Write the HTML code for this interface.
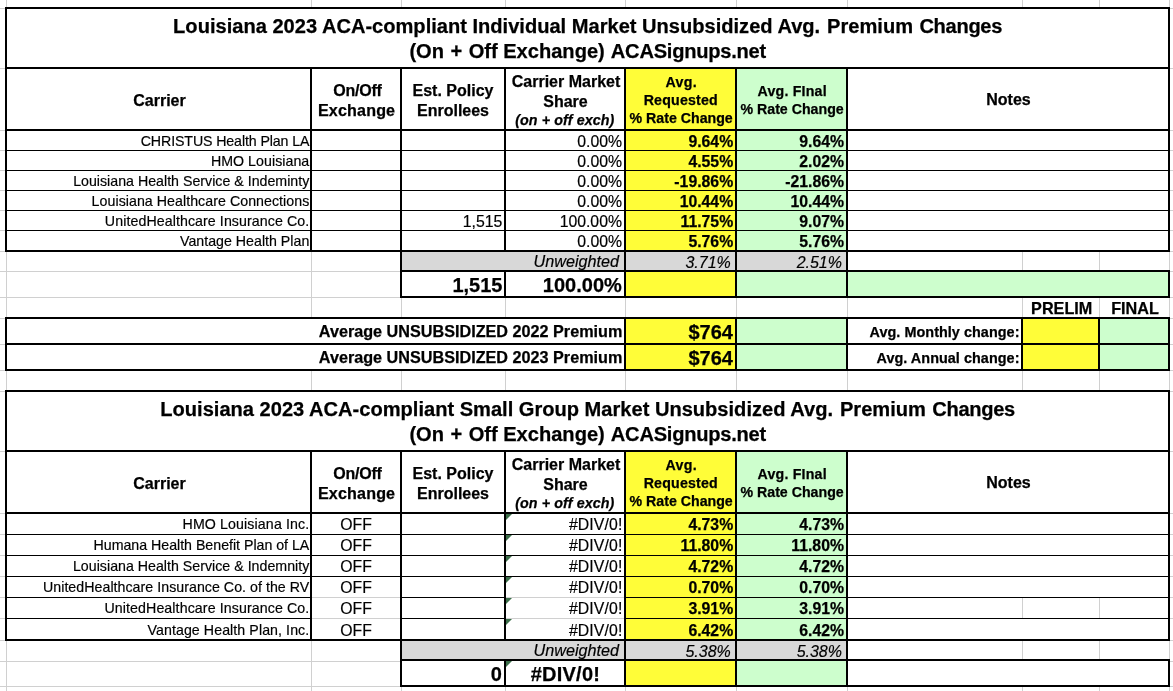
<!DOCTYPE html>
<html><head><meta charset="utf-8"><title>Louisiana 2023 Rate Changes</title><style>
html,body{margin:0;padding:0;background:#fff}
#s{position:relative;width:1173px;height:691px;overflow:hidden;background:#fff;font-family:"Liberation Sans",sans-serif;color:#000}
#s div{position:absolute}
.t{position:absolute;line-height:0;white-space:nowrap;-webkit-text-stroke:0.18px #000}
.b{font-weight:bold;-webkit-text-stroke:0.25px #000}
#tx{position:absolute;left:0;top:0;width:1173px;height:691px;will-change:transform}
</style></head>
<body><div id="s">
<div style="left:6px;top:0px;width:1px;height:691px;background:#D0D0D0"></div>
<div style="left:311px;top:0px;width:1px;height:691px;background:#D0D0D0"></div>
<div style="left:401px;top:0px;width:1px;height:691px;background:#D0D0D0"></div>
<div style="left:505px;top:0px;width:1px;height:691px;background:#D0D0D0"></div>
<div style="left:625px;top:0px;width:1px;height:691px;background:#D0D0D0"></div>
<div style="left:736px;top:0px;width:1px;height:691px;background:#D0D0D0"></div>
<div style="left:847px;top:0px;width:1px;height:691px;background:#D0D0D0"></div>
<div style="left:1022px;top:0px;width:1px;height:691px;background:#D0D0D0"></div>
<div style="left:1099px;top:0px;width:1px;height:691px;background:#D0D0D0"></div>
<div style="left:1169px;top:0px;width:1px;height:691px;background:#D0D0D0"></div>
<div style="left:0px;top:8px;width:1173px;height:1px;background:#D0D0D0"></div>
<div style="left:0px;top:68px;width:1173px;height:1px;background:#D0D0D0"></div>
<div style="left:0px;top:130px;width:1173px;height:1px;background:#D0D0D0"></div>
<div style="left:0px;top:150px;width:1173px;height:1px;background:#D0D0D0"></div>
<div style="left:0px;top:170px;width:1173px;height:1px;background:#D0D0D0"></div>
<div style="left:0px;top:190px;width:1173px;height:1px;background:#D0D0D0"></div>
<div style="left:0px;top:210px;width:1173px;height:1px;background:#D0D0D0"></div>
<div style="left:0px;top:230px;width:1173px;height:1px;background:#D0D0D0"></div>
<div style="left:0px;top:251px;width:1173px;height:1px;background:#D0D0D0"></div>
<div style="left:0px;top:271px;width:1173px;height:1px;background:#D0D0D0"></div>
<div style="left:0px;top:297px;width:1173px;height:1px;background:#D0D0D0"></div>
<div style="left:0px;top:318px;width:1173px;height:1px;background:#D0D0D0"></div>
<div style="left:0px;top:344px;width:1173px;height:1px;background:#D0D0D0"></div>
<div style="left:0px;top:370px;width:1173px;height:1px;background:#D0D0D0"></div>
<div style="left:0px;top:391px;width:1173px;height:1px;background:#D0D0D0"></div>
<div style="left:0px;top:451px;width:1173px;height:1px;background:#D0D0D0"></div>
<div style="left:0px;top:513px;width:1173px;height:1px;background:#D0D0D0"></div>
<div style="left:0px;top:534px;width:1173px;height:1px;background:#D0D0D0"></div>
<div style="left:0px;top:555px;width:1173px;height:1px;background:#D0D0D0"></div>
<div style="left:0px;top:576px;width:1173px;height:1px;background:#D0D0D0"></div>
<div style="left:0px;top:597px;width:1173px;height:1px;background:#D0D0D0"></div>
<div style="left:0px;top:618px;width:1173px;height:1px;background:#D0D0D0"></div>
<div style="left:0px;top:640px;width:1173px;height:1px;background:#D0D0D0"></div>
<div style="left:0px;top:661px;width:1173px;height:1px;background:#D0D0D0"></div>
<div style="left:0px;top:686px;width:1173px;height:1px;background:#D0D0D0"></div>
<div style="left:5px;top:7px;width:1165px;height:245px;background:#fff"></div>
<div style="left:626px;top:69px;width:109px;height:181px;background:#FFFD38"></div>
<div style="left:737px;top:69px;width:109px;height:181px;background:#CDFECD"></div>
<div style="left:5px;top:7px;width:1165px;height:2px;background:#000"></div>
<div style="left:5px;top:67px;width:1165px;height:2px;background:#000"></div>
<div style="left:5px;top:129px;width:1165px;height:2px;background:#000"></div>
<div style="left:5px;top:250px;width:1165px;height:2px;background:#000"></div>
<div style="left:7px;top:150px;width:1161px;height:1px;background:#000"></div>
<div style="left:7px;top:170px;width:1161px;height:1px;background:#000"></div>
<div style="left:7px;top:190px;width:1161px;height:1px;background:#000"></div>
<div style="left:7px;top:210px;width:1161px;height:1px;background:#000"></div>
<div style="left:7px;top:230px;width:1161px;height:1px;background:#000"></div>
<div style="left:5px;top:7px;width:2px;height:245px;background:#000"></div>
<div style="left:1168px;top:7px;width:2px;height:245px;background:#000"></div>
<div style="left:310px;top:67px;width:2px;height:185px;background:#000"></div>
<div style="left:400px;top:67px;width:2px;height:185px;background:#000"></div>
<div style="left:504px;top:67px;width:2px;height:185px;background:#000"></div>
<div style="left:624px;top:67px;width:2px;height:185px;background:#000"></div>
<div style="left:735px;top:67px;width:2px;height:185px;background:#000"></div>
<div style="left:846px;top:67px;width:2px;height:185px;background:#000"></div>
<div style="left:402px;top:252px;width:444px;height:18px;background:#D8D8D8"></div>
<div style="left:400px;top:252px;width:2px;height:18px;background:#000"></div>
<div style="left:624px;top:252px;width:2px;height:18px;background:#000"></div>
<div style="left:735px;top:252px;width:2px;height:18px;background:#000"></div>
<div style="left:846px;top:252px;width:2px;height:18px;background:#000"></div>
<div style="left:400px;top:270px;width:770px;height:28px;background:#fff"></div>
<div style="left:626px;top:272px;width:109px;height:24px;background:#FFFD38"></div>
<div style="left:737px;top:272px;width:109px;height:24px;background:#CDFECD"></div>
<div style="left:400px;top:270px;width:770px;height:2px;background:#000"></div>
<div style="left:400px;top:296px;width:770px;height:2px;background:#000"></div>
<div style="left:400px;top:270px;width:2px;height:28px;background:#000"></div>
<div style="left:504px;top:270px;width:2px;height:28px;background:#000"></div>
<div style="left:624px;top:270px;width:2px;height:28px;background:#000"></div>
<div style="left:735px;top:270px;width:2px;height:28px;background:#000"></div>
<div style="left:846px;top:270px;width:2px;height:28px;background:#000"></div>
<div style="left:1168px;top:270px;width:2px;height:28px;background:#000"></div>
<div style="left:848px;top:272px;width:320px;height:24px;background:#CDFECD"></div>
<div style="left:5px;top:317px;width:1165px;height:54px;background:#fff"></div>
<div style="left:626px;top:319px;width:109px;height:24px;background:#FFFD38"></div>
<div style="left:626px;top:345px;width:109px;height:24px;background:#FFFD38"></div>
<div style="left:737px;top:319px;width:109px;height:24px;background:#CDFECD"></div>
<div style="left:737px;top:345px;width:109px;height:24px;background:#CDFECD"></div>
<div style="left:1023px;top:319px;width:75px;height:24px;background:#FFFD38"></div>
<div style="left:1023px;top:345px;width:75px;height:24px;background:#FFFD38"></div>
<div style="left:1100px;top:319px;width:68px;height:24px;background:#CDFECD"></div>
<div style="left:1100px;top:345px;width:68px;height:24px;background:#CDFECD"></div>
<div style="left:5px;top:317px;width:1165px;height:2px;background:#000"></div>
<div style="left:5px;top:343px;width:1165px;height:2px;background:#000"></div>
<div style="left:5px;top:369px;width:1165px;height:2px;background:#000"></div>
<div style="left:5px;top:317px;width:2px;height:54px;background:#000"></div>
<div style="left:624px;top:317px;width:2px;height:54px;background:#000"></div>
<div style="left:735px;top:317px;width:2px;height:54px;background:#000"></div>
<div style="left:846px;top:317px;width:2px;height:54px;background:#000"></div>
<div style="left:1021px;top:317px;width:2px;height:54px;background:#000"></div>
<div style="left:1098px;top:317px;width:2px;height:54px;background:#000"></div>
<div style="left:1168px;top:317px;width:2px;height:54px;background:#000"></div>
<div style="left:5px;top:390px;width:1165px;height:251px;background:#fff"></div>
<div style="left:626px;top:452px;width:109px;height:187px;background:#FFFD38"></div>
<div style="left:737px;top:452px;width:109px;height:187px;background:#CDFECD"></div>
<div style="left:5px;top:390px;width:1165px;height:2px;background:#000"></div>
<div style="left:5px;top:450px;width:1165px;height:2px;background:#000"></div>
<div style="left:5px;top:512px;width:1165px;height:2px;background:#000"></div>
<div style="left:5px;top:639px;width:1165px;height:2px;background:#000"></div>
<div style="left:7px;top:534px;width:1161px;height:1px;background:#000"></div>
<div style="left:7px;top:555px;width:1161px;height:1px;background:#000"></div>
<div style="left:7px;top:576px;width:1161px;height:1px;background:#000"></div>
<div style="left:7px;top:597px;width:1161px;height:1px;background:#000"></div>
<div style="left:7px;top:618px;width:1161px;height:1px;background:#000"></div>
<div style="left:5px;top:390px;width:2px;height:251px;background:#000"></div>
<div style="left:1168px;top:390px;width:2px;height:251px;background:#000"></div>
<div style="left:310px;top:450px;width:2px;height:191px;background:#000"></div>
<div style="left:400px;top:450px;width:2px;height:191px;background:#000"></div>
<div style="left:504px;top:450px;width:2px;height:191px;background:#000"></div>
<div style="left:624px;top:450px;width:2px;height:191px;background:#000"></div>
<div style="left:735px;top:450px;width:2px;height:191px;background:#000"></div>
<div style="left:846px;top:450px;width:2px;height:191px;background:#000"></div>
<div style="left:506px;top:514px;width:0;height:0;border-top:6px solid #3B6E49;border-right:6px solid transparent"></div>
<div style="left:506px;top:535px;width:0;height:0;border-top:6px solid #3B6E49;border-right:6px solid transparent"></div>
<div style="left:506px;top:556px;width:0;height:0;border-top:6px solid #3B6E49;border-right:6px solid transparent"></div>
<div style="left:506px;top:577px;width:0;height:0;border-top:6px solid #3B6E49;border-right:6px solid transparent"></div>
<div style="left:506px;top:598px;width:0;height:0;border-top:6px solid #3B6E49;border-right:6px solid transparent"></div>
<div style="left:506px;top:619px;width:0;height:0;border-top:6px solid #3B6E49;border-right:6px solid transparent"></div>
<div style="left:402px;top:641px;width:444px;height:18px;background:#D8D8D8"></div>
<div style="left:400px;top:641px;width:2px;height:18px;background:#000"></div>
<div style="left:624px;top:641px;width:2px;height:18px;background:#000"></div>
<div style="left:735px;top:641px;width:2px;height:18px;background:#000"></div>
<div style="left:846px;top:641px;width:2px;height:18px;background:#000"></div>
<div style="left:400px;top:659px;width:770px;height:28px;background:#fff"></div>
<div style="left:626px;top:661px;width:109px;height:24px;background:#FFFD38"></div>
<div style="left:737px;top:661px;width:109px;height:24px;background:#CDFECD"></div>
<div style="left:400px;top:659px;width:770px;height:2px;background:#000"></div>
<div style="left:400px;top:685px;width:770px;height:2px;background:#000"></div>
<div style="left:400px;top:659px;width:2px;height:28px;background:#000"></div>
<div style="left:504px;top:659px;width:2px;height:28px;background:#000"></div>
<div style="left:624px;top:659px;width:2px;height:28px;background:#000"></div>
<div style="left:735px;top:659px;width:2px;height:28px;background:#000"></div>
<div style="left:846px;top:659px;width:2px;height:28px;background:#000"></div>
<div style="left:1168px;top:659px;width:2px;height:28px;background:#000"></div>
<div style="left:506px;top:661px;width:0;height:0;border-top:6px solid #3B6E49;border-right:6px solid transparent"></div>
<div style="left:312px;top:597px;width:88px;height:1px;background:#D0D0D0"></div>
<div style="left:312px;top:618px;width:88px;height:1px;background:#D0D0D0"></div>
<div style="left:506px;top:597px;width:118px;height:1px;background:#D0D0D0"></div>
<div style="left:506px;top:618px;width:118px;height:1px;background:#D0D0D0"></div>
<div style="left:1022px;top:598px;width:1px;height:20px;background:#D0D0D0"></div>
<div style="left:1099px;top:598px;width:1px;height:20px;background:#D0D0D0"></div>
<div id="tx">
<span class="t b" style="left:-112.4px;width:1400px;text-align:center;top:26.042px;font-size:20.08px;">Louisiana 2023 ACA-compliant Individual Market Unsubsidized Avg.<span style="word-spacing:1.3px"> </span>Premium<span style="word-spacing:0.8px"> </span><span style="letter-spacing:-0.3px">Changes</span></span>
<span class="t b" style="left:-112.3px;width:1400px;text-align:center;top:51.042px;font-size:20.08px;"><span style="word-spacing:0.9px">(On + </span>Off Exchange)<span style="word-spacing:0.5px"> </span><span style="letter-spacing:-0.23px">ACASignups.net</span></span>
<span class="t b" style="left:-540.5px;width:1400px;text-align:center;top:101.056px;font-size:16px;">Carrier</span>
<span class="t b" style="left:-342.5px;width:1400px;text-align:center;top:91.056px;font-size:16px;letter-spacing:-0.25px;">On/Off</span>
<span class="t b" style="left:-343.4px;width:1400px;text-align:center;top:110.121px;font-size:16.1px;letter-spacing:0.15px;">Exchange</span>
<span class="t b" style="left:-247px;width:1400px;text-align:center;top:91.056px;font-size:16px;">Est. Policy</span>
<span class="t b" style="left:-247px;width:1400px;text-align:center;top:111.056px;font-size:16px;">Enrollees</span>
<span class="t b" style="left:-134px;width:1400px;text-align:center;top:82.056px;font-size:16px;">Carrier Market</span>
<span class="t b" style="left:-134.5px;width:1400px;text-align:center;top:102.056px;font-size:16px;">Share</span>
<span class="t b" style="left:-135.2px;width:1400px;text-align:center;top:120.045px;font-size:14.3px;font-style:italic;letter-spacing:0.1px;">(on + off exch)</span>
<span class="t b" style="left:-18.7px;width:1400px;text-align:center;top:82.08px;font-size:14.2px;letter-spacing:0.3px;">Avg.</span>
<span class="t b" style="left:-19.2px;width:1400px;text-align:center;top:100.08px;font-size:14.2px;letter-spacing:0.2px;">Requested</span>
<span class="t b" style="left:-18.9px;width:1400px;text-align:center;top:118.08px;font-size:14.2px;">% Rate Change</span>
<span class="t b" style="left:92.2px;width:1400px;text-align:center;top:91.08px;font-size:14.2px;letter-spacing:0.2px;">Avg. FInal</span>
<span class="t b" style="left:92.1px;width:1400px;text-align:center;top:109.08px;font-size:14.2px;">% Rate Change</span>
<span class="t b" style="left:308.5px;width:1400px;text-align:center;top:100.056px;font-size:16px;">Notes</span>
<span class="t" style="right:863.7px;text-align:right;top:141.08px;font-size:14.2px;letter-spacing:-0.11px;">CHRISTUS Health Plan LA</span>
<span class="t" style="right:551px;text-align:right;top:142.025px;font-size:15.8px;">0.00%</span>
<span class="t b" style="right:439.8px;text-align:right;top:142.025px;font-size:15.8px;">9.64%</span>
<span class="t b" style="right:329px;text-align:right;top:142.025px;font-size:15.8px;">9.64%</span>
<span class="t" style="right:863.7px;text-align:right;top:161.08px;font-size:14.2px;letter-spacing:0.05px;">HMO Louisiana</span>
<span class="t" style="right:551px;text-align:right;top:162.025px;font-size:15.8px;">0.00%</span>
<span class="t b" style="right:439.8px;text-align:right;top:162.025px;font-size:15.8px;">4.55%</span>
<span class="t b" style="right:329px;text-align:right;top:162.025px;font-size:15.8px;">2.02%</span>
<span class="t" style="right:863.7px;text-align:right;top:181.08px;font-size:14.2px;letter-spacing:0.01px;">Louisiana Health Service &amp; Indeminty</span>
<span class="t" style="right:551px;text-align:right;top:182.025px;font-size:15.8px;">0.00%</span>
<span class="t b" style="right:439.8px;text-align:right;top:182.025px;font-size:15.8px;">-19.86%</span>
<span class="t b" style="right:329px;text-align:right;top:182.025px;font-size:15.8px;">-21.86%</span>
<span class="t" style="right:863.7px;text-align:right;top:201.08px;font-size:14.2px;letter-spacing:0.05px;">Louisiana Healthcare Connections</span>
<span class="t" style="right:551px;text-align:right;top:202.025px;font-size:15.8px;">0.00%</span>
<span class="t b" style="right:439.8px;text-align:right;top:202.025px;font-size:15.8px;">10.44%</span>
<span class="t b" style="right:329px;text-align:right;top:202.025px;font-size:15.8px;">10.44%</span>
<span class="t" style="right:863.7px;text-align:right;top:221.08px;font-size:14.2px;letter-spacing:0.085px;">UnitedHealthcare Insurance Co.</span>
<span class="t" style="right:670.7px;text-align:right;top:222.025px;font-size:15.8px;">1,515</span>
<span class="t" style="right:551px;text-align:right;top:222.025px;font-size:15.8px;">100.00%</span>
<span class="t b" style="right:439.8px;text-align:right;top:222.025px;font-size:15.8px;">11.75%</span>
<span class="t b" style="right:329px;text-align:right;top:222.025px;font-size:15.8px;">9.07%</span>
<span class="t" style="right:863.7px;text-align:right;top:241.08px;font-size:14.2px;letter-spacing:0.01px;">Vantage Health Plan</span>
<span class="t" style="right:551px;text-align:right;top:242.025px;font-size:15.8px;">0.00%</span>
<span class="t b" style="right:439.8px;text-align:right;top:242.025px;font-size:15.8px;">5.76%</span>
<span class="t b" style="right:329px;text-align:right;top:242.025px;font-size:15.8px;">5.76%</span>
<span class="t" style="right:554px;text-align:right;top:261.187px;font-size:16.2px;font-style:italic;">Unweighted</span>
<span class="t" style="right:442.2px;text-align:right;top:263.056px;font-size:16px;font-style:italic;">3.71%</span>
<span class="t" style="right:331px;text-align:right;top:263.056px;font-size:16px;font-style:italic;">2.51%</span>
<span class="t b" style="right:670.5px;text-align:right;top:285.07px;font-size:20px;">1,515</span>
<span class="t b" style="right:551.2px;text-align:right;top:285.07px;font-size:20px;">100.00%</span>
<span class="t b" style="left:361.7px;width:1400px;text-align:center;top:308.187px;font-size:16.2px;">PRELIM</span>
<span class="t b" style="left:435px;width:1400px;text-align:center;top:308.187px;font-size:16.2px;">FINAL</span>
<span class="t b" style="right:550.7px;text-align:right;top:331.187px;font-size:16.2px;">Average UNSUBSIDIZED 2022 Premium</span>
<span class="t b" style="right:550.7px;text-align:right;top:357.187px;font-size:16.2px;">Average UNSUBSIDIZED 2023 Premium</span>
<span class="t b" style="right:440px;text-align:right;top:332.07px;font-size:20px;">$764</span>
<span class="t b" style="right:440px;text-align:right;top:358.07px;font-size:20px;">$764</span>
<span class="t b" style="right:153.5px;text-align:right;top:332.01px;font-size:14.4px;letter-spacing:0.05px;">Avg. Monthly change:</span>
<span class="t b" style="right:153.5px;text-align:right;top:358.01px;font-size:14.4px;letter-spacing:0.05px;">Avg. Annual change:</span>
<span class="t b" style="left:-112.4px;width:1400px;text-align:center;top:409.042px;font-size:20.08px;">Louisiana 2023 ACA-compliant Small Group Market Unsubsidized Avg.<span style="word-spacing:1.3px"> </span>Premium<span style="word-spacing:0.8px"> </span><span style="letter-spacing:-0.3px">Changes</span></span>
<span class="t b" style="left:-112.3px;width:1400px;text-align:center;top:434.042px;font-size:20.08px;"><span style="word-spacing:0.9px">(On + </span>Off Exchange)<span style="word-spacing:0.5px"> </span><span style="letter-spacing:-0.23px">ACASignups.net</span></span>
<span class="t b" style="left:-540.5px;width:1400px;text-align:center;top:484.056px;font-size:16px;">Carrier</span>
<span class="t b" style="left:-342.5px;width:1400px;text-align:center;top:474.056px;font-size:16px;letter-spacing:-0.25px;">On/Off</span>
<span class="t b" style="left:-343.4px;width:1400px;text-align:center;top:493.121px;font-size:16.1px;letter-spacing:0.15px;">Exchange</span>
<span class="t b" style="left:-247px;width:1400px;text-align:center;top:474.056px;font-size:16px;">Est. Policy</span>
<span class="t b" style="left:-247px;width:1400px;text-align:center;top:494.056px;font-size:16px;">Enrollees</span>
<span class="t b" style="left:-134px;width:1400px;text-align:center;top:465.056px;font-size:16px;">Carrier Market</span>
<span class="t b" style="left:-134.5px;width:1400px;text-align:center;top:485.056px;font-size:16px;">Share</span>
<span class="t b" style="left:-135.2px;width:1400px;text-align:center;top:503.045px;font-size:14.3px;font-style:italic;letter-spacing:0.1px;">(on + off exch)</span>
<span class="t b" style="left:-18.7px;width:1400px;text-align:center;top:465.08px;font-size:14.2px;letter-spacing:0.3px;">Avg.</span>
<span class="t b" style="left:-19.2px;width:1400px;text-align:center;top:483.08px;font-size:14.2px;letter-spacing:0.2px;">Requested</span>
<span class="t b" style="left:-18.9px;width:1400px;text-align:center;top:501.08px;font-size:14.2px;">% Rate Change</span>
<span class="t b" style="left:92.2px;width:1400px;text-align:center;top:474.08px;font-size:14.2px;letter-spacing:0.2px;">Avg. FInal</span>
<span class="t b" style="left:92.1px;width:1400px;text-align:center;top:492.08px;font-size:14.2px;">% Rate Change</span>
<span class="t b" style="left:308.5px;width:1400px;text-align:center;top:483.056px;font-size:16px;">Notes</span>
<span class="t" style="right:863.7px;text-align:right;top:524.08px;font-size:14.2px;letter-spacing:0.12px;">HMO Louisiana Inc.</span>
<span class="t" style="left:-344px;width:1400px;text-align:center;top:525.025px;font-size:15.8px;">OFF</span>
<span class="t" style="right:550.6px;text-align:right;top:525.025px;font-size:15.8px;letter-spacing:0.12px;">#DIV/0!</span>
<span class="t b" style="right:439.8px;text-align:right;top:525.025px;font-size:15.8px;">4.73%</span>
<span class="t b" style="right:329px;text-align:right;top:525.025px;font-size:15.8px;">4.73%</span>
<span class="t" style="right:863.7px;text-align:right;top:545.08px;font-size:14.2px;letter-spacing:-0.01px;">Humana Health Benefit Plan of LA</span>
<span class="t" style="left:-344px;width:1400px;text-align:center;top:546.025px;font-size:15.8px;">OFF</span>
<span class="t" style="right:550.6px;text-align:right;top:546.025px;font-size:15.8px;letter-spacing:0.12px;">#DIV/0!</span>
<span class="t b" style="right:439.8px;text-align:right;top:546.025px;font-size:15.8px;">11.80%</span>
<span class="t b" style="right:329px;text-align:right;top:546.025px;font-size:15.8px;">11.80%</span>
<span class="t" style="right:863.7px;text-align:right;top:566.08px;font-size:14.2px;letter-spacing:0.015px;">Louisiana Health Service &amp; Indemnity</span>
<span class="t" style="left:-344px;width:1400px;text-align:center;top:567.025px;font-size:15.8px;">OFF</span>
<span class="t" style="right:550.6px;text-align:right;top:567.025px;font-size:15.8px;letter-spacing:0.12px;">#DIV/0!</span>
<span class="t b" style="right:439.8px;text-align:right;top:567.025px;font-size:15.8px;">4.72%</span>
<span class="t b" style="right:329px;text-align:right;top:567.025px;font-size:15.8px;">4.72%</span>
<span class="t" style="right:863.7px;text-align:right;top:587.08px;font-size:14.2px;letter-spacing:0.04px;">UnitedHealthcare Insurance Co. of the RV</span>
<span class="t" style="left:-344px;width:1400px;text-align:center;top:588.025px;font-size:15.8px;">OFF</span>
<span class="t" style="right:550.6px;text-align:right;top:588.025px;font-size:15.8px;letter-spacing:0.12px;">#DIV/0!</span>
<span class="t b" style="right:439.8px;text-align:right;top:588.025px;font-size:15.8px;">0.70%</span>
<span class="t b" style="right:329px;text-align:right;top:588.025px;font-size:15.8px;">0.70%</span>
<span class="t" style="right:863.7px;text-align:right;top:608.08px;font-size:14.2px;letter-spacing:0.1px;">UnitedHealthcare Insurance Co.</span>
<span class="t" style="left:-344px;width:1400px;text-align:center;top:609.025px;font-size:15.8px;">OFF</span>
<span class="t" style="right:550.6px;text-align:right;top:609.025px;font-size:15.8px;letter-spacing:0.12px;">#DIV/0!</span>
<span class="t b" style="right:439.8px;text-align:right;top:609.025px;font-size:15.8px;">3.91%</span>
<span class="t b" style="right:329px;text-align:right;top:609.025px;font-size:15.8px;">3.91%</span>
<span class="t" style="right:863.7px;text-align:right;top:630.08px;font-size:14.2px;letter-spacing:0.08px;">Vantage Health Plan, Inc.</span>
<span class="t" style="left:-344px;width:1400px;text-align:center;top:631.025px;font-size:15.8px;">OFF</span>
<span class="t" style="right:550.6px;text-align:right;top:631.025px;font-size:15.8px;letter-spacing:0.12px;">#DIV/0!</span>
<span class="t b" style="right:439.8px;text-align:right;top:631.025px;font-size:15.8px;">6.42%</span>
<span class="t b" style="right:329px;text-align:right;top:631.025px;font-size:15.8px;">6.42%</span>
<span class="t" style="right:554px;text-align:right;top:650.187px;font-size:16.2px;font-style:italic;">Unweighted</span>
<span class="t" style="right:442.2px;text-align:right;top:652.056px;font-size:16px;font-style:italic;">5.38%</span>
<span class="t" style="right:331px;text-align:right;top:652.056px;font-size:16px;font-style:italic;">5.38%</span>
<span class="t b" style="right:671.2px;text-align:right;top:674.07px;font-size:20px;">0</span>
<span class="t b" style="left:-134.6px;width:1400px;text-align:center;top:674.07px;font-size:20px;letter-spacing:0.25px;">#DIV/0!</span>
</div>
</div></body></html>
